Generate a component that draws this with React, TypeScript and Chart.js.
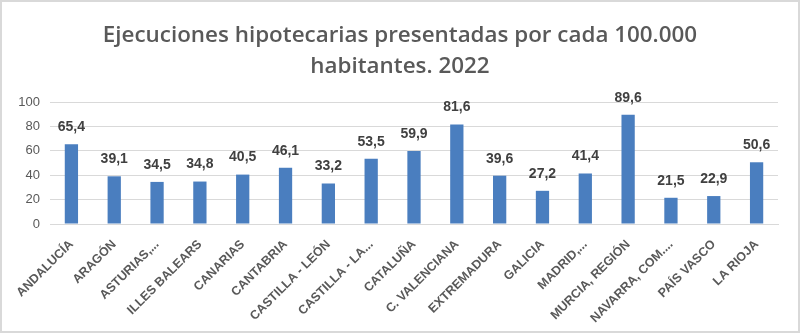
import React, { useEffect, useRef } from "react";
import { Chart, registerables } from "chart.js";

Chart.register(...registerables);

const categories = [
  "ANDALUCÍA",
  "ARAGÓN",
  "ASTURIAS,...",
  "ILLES BALEARS",
  "CANARIAS",
  "CANTABRIA",
  "CASTILLA - LEÓN",
  "CASTILLA - LA...",
  "CATALUÑA",
  "C. VALENCIANA",
  "EXTREMADURA",
  "GALICIA",
  "MADRID,...",
  "MURCIA, REGIÓN",
  "NAVARRA, COM....",
  "PAÍS VASCO",
  "LA RIOJA",
];
const values = [65.4, 39.1, 34.5, 34.8, 40.5, 46.1, 33.2, 53.5, 59.9, 81.6, 39.6, 27.2, 41.4, 89.6, 21.5, 22.9, 50.6];
const titleLines = ["Ejecuciones hipotecarias presentadas por cada 100.000", "habitantes. 2022"];
const yTicks = [0, 20, 40, 60, 80, 100];

const FONT = "'Open Sans', sans-serif";
const BODY_FONT = "'Liberation Sans', Arial, sans-serif";

const dataLabels = {
  id: "dataLabels",
  afterDatasetsDraw(chart: any) {
    const ctx = chart.ctx;
    const meta = chart.getDatasetMeta(0);
    ctx.save();
    ctx.font = `bold 14px ${BODY_FONT}`;
    ctx.fillStyle = "#404040";
    ctx.textAlign = "center";
    ctx.textBaseline = "middle";
    meta.data.forEach((bar: any, i: number) => {
      const v = values[i];
      ctx.fillText(v.toFixed(1).replace(".", ","), bar.x, bar.y - 17);
    });
    ctx.restore();
  },
};

const centeredTitle = {
  id: "centeredTitle",
  afterDraw(chart: any) {
    const ctx = chart.ctx;
    ctx.save();
    ctx.font = `600 22.4px ${FONT}`;
    ctx.fillStyle = "#595959";
    ctx.textAlign = "center";
    ctx.textBaseline = "middle";
    titleLines.forEach((line, i) => {
      ctx.fillText(line, chart.width / 2, 34 + i * 31);
    });
    ctx.restore();
  },
};

export default function App() {
  const ref = useRef<HTMLCanvasElement>(null);
  useEffect(() => {
    if (!ref.current) return;
    const chart = new Chart(ref.current, {
      type: "bar",
      data: {
        labels: categories,
        datasets: [
          {
            data: values,
            backgroundColor: "#4A7EBF",
            categoryPercentage: 1,
            barPercentage: 0.31,
          },
        ],
      },
      options: {
        animation: false,
        responsive: false,
        maintainAspectRatio: false,
        layout: { padding: { left: 0, right: 20, top: 100, bottom: 0 } },
        plugins: {
          legend: { display: false },
          tooltip: { enabled: false },
          title: { display: false },
        },
        scales: {
          x: {
            grid: { display: false, drawTicks: false },
            border: { color: "#d9d9d9" },
            ticks: {
              color: "#595959",
              font: { family: BODY_FONT, size: 12.5, weight: "bold" },
              maxRotation: 45,
              minRotation: 45,
              autoSkip: false,
              padding: 13,
            },
            afterFit(scale: any) {
              scale.height = 107;
            },
          },
          y: {
            min: 0,
            max: 100,
            afterBuildTicks(scale: any) {
              scale.ticks = yTicks.map((v) => ({ value: v }));
            },
            grid: { color: "#d9d9d9", drawTicks: false },
            border: { display: false },
            ticks: {
              color: "#595959",
              font: { family: BODY_FONT, size: 13 },
              padding: 10,
            },
            afterFit(scale: any) {
              scale.width = 48;
            },
          },
        },
      },
      plugins: [dataLabels, centeredTitle],
    });
    return () => chart.destroy();
  }, []);
  return (
    <div
      style={{
        position: "fixed",
        left: 0,
        top: 0,
        width: 800,
        height: 333,
        boxSizing: "border-box",
        border: "2px solid #d9d9d9",
        background: "#fff",
      }}
    >
      <canvas ref={ref} width={796} height={329} style={{ display: "block" }} />
    </div>
  );
}
